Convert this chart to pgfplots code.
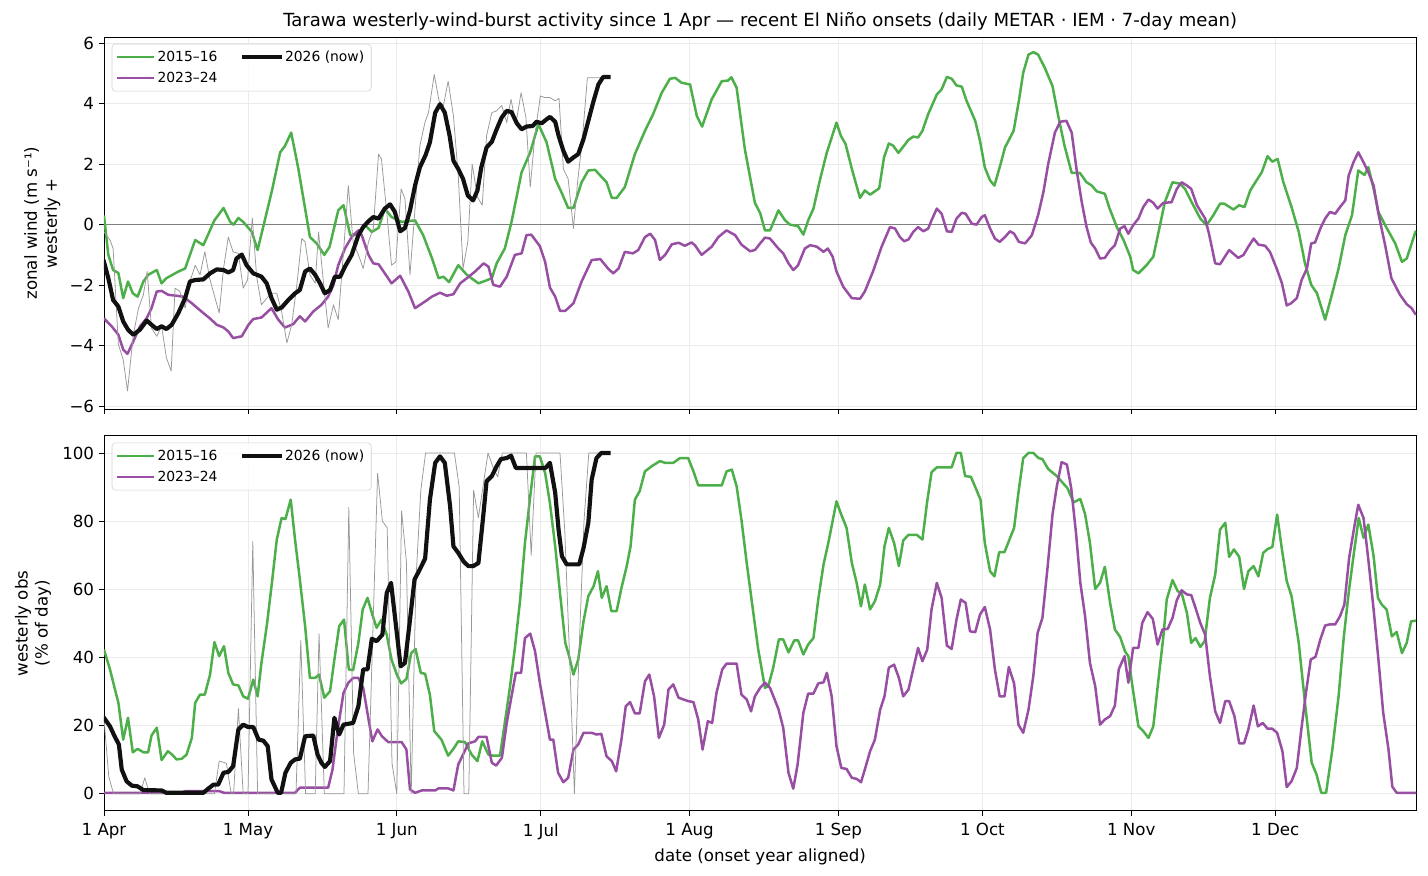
\documentclass[border=0pt]{standalone}
\usepackage{fontspec}
\setmainfont{DejaVu Sans}
\usepackage{pgfplots}
\pgfplotsset{compat=1.18}
\definecolor{cgreen}{HTML}{4DAF4A}
\definecolor{cpurple}{HTML}{984EA3}
\definecolor{cblack}{HTML}{111111}
\pgfplotsset{
  common/.style={
    width=944.9pt, scale only axis,
    xmin=0, xmax=273.4,
    xtick={0,30,61,91,122,153,183,214,244},
    tick align=outside, tick pos=left,
    major tick length=3.6pt,
    grid=major, grid style={black!8, line width=0.6pt},
    axis line style={line width=0.6pt},
    every tick/.style={black, line width=0.6pt},
    tick label style={font=\fontsize{12}{14}\selectfont},
    xticklabel style={yshift=-2pt},
    label style={font=\fontsize{12}{14.4}\selectfont},
    /pgf/number format/assume math mode=true,
    legend columns=2,
    legend cell align=left,
    legend image code/.code={\draw[#1] (0pt,0pt) -- (21.6pt,0pt); \path (0pt,0pt) -- (26pt,0pt);},
    legend style={at={(axis description cs:0.0059,0.982)}, anchor=north west,
      draw=black!18, rounded corners=2.5pt, fill=white, fill opacity=0.8,
      text opacity=1, draw opacity=1, font=\fontsize{10}{12}\selectfont,
      inner xsep=3pt, inner ysep=3pt, row sep=2pt,
      /tikz/every even column/.append style={column sep=15.6pt}},
  },
  gline/.style={cgreen, line width=1.8pt, line join=round},
  pline/.style={cpurple, line width=1.8pt, line join=round},
  kline/.style={cblack, line width=3pt, line join=round, line cap=rect},
  dline/.style={black!40, line width=0.55pt, line join=round},
}
\begin{document}
\begin{tikzpicture}
\path (-74.88pt,26.64pt) rectangle (953.3pt,-603.4pt);
\begin{axis}[common, name=top, at={(0,0)}, anchor=north west,
  height=268pt, ymin=-6.1, ymax=6.2,
  ytick={-6,-4,-2,0,2,4,6}, yticklabels={−6,−4,−2,0,2,4,6},
  xticklabels={},
  ylabel={zonal wind (m s⁻¹)\\westerly +},
  ylabel style={at={(axis description cs:-0.047,0.5)}, anchor=center, align=center},
  title={Tarawa westerly-wind-burst activity since 1 Apr — recent El Niño onsets (daily METAR · IEM · 7-day mean)},
  title style={font=\fontsize{13}{15}\selectfont, at={(axis description cs:0.5,1)}, anchor=south, yshift=-4.5pt},
]
\addlegendimage{gline}\addlegendentry{2015–16}
\addlegendimage{kline}\addlegendentry{2026 (now)}
\addlegendimage{pline}\addlegendentry{2023–24}
\addplot[black!50, line width=0.6pt, forget plot] coordinates {(-5,0) (280,0)};
% 2015-16
\addplot[gline, forget plot] coordinates {
(0,0.3) (0.9,-1.0) (1.9,-1.5) (3,-1.6) (4,-2.43) (5,-1.88) (6,-2.27) (7,-2.38) (8.2,-1.88) (9.2,-1.66) (11,-1.5) (12,-1.94) (13,-1.77) (15.5,-1.55) (16.9,-1.45) (19,-0.51) (20.7,-0.68) (23,0.14) (24.9,0.55) (26.3,0.09) (27,0) (28,0.22) (29,0.09) (30.8,-0.24) (32,-0.84) (33.5,0.14) (35,1.13) (36.7,2.39) (37.7,2.6) (39,3.04) (40.5,1.84) (42.9,-0.41) (44.3,-0.62) (45.9,-1.0) (47,-0.73) (48.8,0.47) (49.9,0.64) (51.3,-0.35) (53,-0.33) (54.4,-0.02) (55.8,-0.24) (57.2,-0.11) (58.5,0.53) (59.9,0.25) (62,0.09) (64.8,0.14) (66.5,-0.35) (68.3,-1.1) (69.7,-1.77) (70.7,-1.72) (71.9,-1.9) (73.8,-1.34) (75.6,-1.66) (78,-1.94) (79.4,-1.86) (80.8,-1.77) (81.8,-1.28) (83.5,-0.79) (84.9,0.09) (87,1.73) (88.8,2.39) (90.5,3.32) (92.2,2.72) (94,1.51) (95.3,1.07) (96.7,0.55) (97.8,0.55) (99.5,1.4) (100.9,1.79) (102.3,1.81) (103.7,1.57) (104.7,1.4) (105.8,0.88) (106.8,0.88) (108.5,1.24) (110.6,2.33) (112.7,3.1) (114.4,3.65) (116.2,4.36) (117.9,4.82) (119,4.85) (120.3,4.69) (122.1,4.63) (123.5,3.59) (124.6,3.24) (126.6,4.14) (128.7,4.74) (130,4.76) (130.7,4.87) (131.8,4.52) (133.5,2.5) (135.6,0.72) (136.7,0.38) (137.7,-0.19) (138.75,-0.19) (140.5,0.47) (141.9,0.14) (142.9,0) (144.6,-0.05) (145.7,-0.33) (146.7,0.14) (147.8,0.53) (149.2,1.51) (150.6,2.39) (151.6,2.88) (152.6,3.37) (153.5,2.94) (154.5,2.66) (155.8,1.84) (157.5,0.88) (158.5,1.13) (159.6,0.99) (161.5,1.2) (162.5,2.22) (163.5,2.68) (164.4,2.61) (165.5,2.37) (167.6,2.8) (168.6,2.91) (169.6,2.88) (170.5,3.1) (171.7,3.65) (173.5,4.3) (174.5,4.47) (175.6,4.88) (176.6,4.82) (177.6,4.6) (178.7,4.56) (179.7,4.09) (181.5,3.43) (182.5,2.77) (183.5,1.89) (184.6,1.46) (185.5,1.29) (186.7,1.95) (187.7,2.55) (189.5,3.1) (190.6,4.09) (191.5,5.02) (192.6,5.62) (193.6,5.7) (194.6,5.62) (196,5.18) (197.6,4.58) (198.8,3.59) (200.1,2.61) (201.6,1.71) (203.3,1.71) (204.7,1.4) (205.8,1.29) (206.8,1.1) (208.5,1.02) (209.5,0.53) (211,-0.08) (212.4,-0.51) (213.8,-1.06) (214.4,-1.5) (215.5,-1.61) (217.2,-1.34) (218.6,-1.06) (219.7,-0.24) (221,0.74) (222.6,1.4) (224.2,1.35) (225.2,1.18) (226.6,0.74) (228.4,0.2) (229.7,-0.02) (231.1,0.31) (232.5,0.69) (233.4,0.69) (235.3,0.5) (236.5,0.64) (237.6,0.58) (238.8,1.13) (240.1,1.46) (241.2,1.73) (242.4,2.26) (243.4,2.08) (244.5,2.17) (245.7,1.4) (247.4,0.58) (248.9,-0.24) (250.2,-1.28) (251.5,-1.99) (252.7,-2.27) (254.4,-3.14) (255.8,-2.32) (257.2,-1.45) (258.6,-0.35) (260,0.31) (261.3,1.79) (262.6,1.64) (263.4,1.9) (264.5,1.18) (265.5,0.42) (266.9,-0.02) (269,-0.62) (270.4,-1.23) (271.4,-1.12) (273.3,-0.2)
};
% 2023-24
\addplot[pline, forget plot] coordinates {
(0,-3.1) (1.6,-3.36) (3,-3.64) (4,-4.13) (4.9,-4.27) (6.1,-3.86) (7.5,-3.36) (8.9,-3.09) (9.9,-2.76) (11,-2.21) (12,-2.19) (13.4,-2.32) (15.1,-2.35) (16.5,-2.38) (18.3,-2.6) (20.3,-2.87) (22,-3.09) (23.5,-3.31) (24.9,-3.4) (25.9,-3.53) (26.9,-3.75) (28.7,-3.69) (30.1,-3.31) (31.1,-3.12) (32.8,-3.07) (34.9,-2.76) (36.3,-3.14) (37.7,-3.4) (39.4,-3.29) (40.8,-3.03) (41.9,-3.2) (43.6,-2.87) (45.3,-2.65) (46.7,-2.38) (47.8,-1.99) (48.8,-1.34) (50.2,-0.79) (51.6,-0.41) (53,-0.19) (53.7,-0.35) (55.1,-1.0) (56.1,-1.28) (57.2,-1.31) (58.5,-1.61) (59.9,-1.94) (61.7,-1.69) (63.4,-2.21) (64.8,-2.76) (66.9,-2.54) (68.3,-2.38) (70,-2.25) (71.4,-2.35) (72.8,-2.3) (74.2,-1.94) (75.6,-1.77) (77.3,-1.55) (79.1,-1.28) (80.1,-1.39) (81.1,-1.99) (82.5,-2.05) (83.9,-1.72) (85.6,-1.0) (87,-0.95) (88,-0.35) (89,-0.33) (90.8,-0.71) (91.9,-1.23) (92.9,-2.08) (94,-2.38) (95,-2.85) (96.1,-2.85) (97.8,-2.6) (99.5,-1.88) (101.6,-1.17) (103.4,-1.14) (105,-1.45) (106.1,-1.61) (107.2,-1.45) (108.5,-0.9) (110.2,-0.95) (111.3,-0.84) (112.7,-0.41) (113.8,-0.3) (114.8,-0.51) (115.8,-1.17) (116.9,-1.0) (118.3,-0.65) (119.7,-0.6) (121,-0.7) (122.4,-0.59) (123.1,-0.68) (124.5,-1.0) (126.6,-0.73) (128,-0.41) (129.7,-0.19) (131.5,-0.35) (132.8,-0.66) (134.6,-0.88) (135.6,-0.84) (136.7,-0.62) (137.7,-0.43) (138.75,-0.46) (140.5,-0.79) (141.5,-0.95) (142.6,-1.28) (143.6,-1.5) (144.6,-1.34) (146,-0.79) (147.1,-0.68) (148.5,-0.73) (149.9,-0.9) (150.8,-0.79) (151.8,-1.06) (152.6,-1.55) (154,-2.05) (155.8,-2.43) (157.5,-2.45) (158.5,-2.21) (160.2,-1.55) (162,-0.73) (163.75,-0.08) (164.8,-0.13) (165.8,-0.41) (166.7,-0.55) (167.6,-0.49) (168.6,-0.24) (169.6,-0.08) (170.7,-0.22) (171.7,-0.13) (172.4,0.14) (173.5,0.53) (174.5,0.36) (175.6,-0.22) (176.6,-0.24) (177.6,0.2) (178.7,0.39) (179.5,0.36) (180.8,0.03) (181.8,0) (182.85,0.25) (183.5,0.31) (184.6,-0.13) (185.6,-0.46) (186.6,-0.57) (187.7,-0.41) (188.75,-0.22) (189.6,-0.3) (190.6,-0.57) (191.9,-0.62) (193.3,-0.35) (194.6,0.31) (195.7,1.07) (196.7,2.0) (198.1,3.04) (199.2,3.4) (200.5,3.43) (201.6,3.04) (202.6,1.84) (203.7,0.74) (204.7,-0.08) (205.6,-0.6) (206.5,-0.79) (207.5,-1.12) (208.5,-1.1) (209.6,-0.84) (210.6,-0.68) (211.7,-0.13) (212.6,-0.05) (213.4,-0.3) (214.4,-0.02) (215.5,0.2) (216.5,0.58) (217.6,0.83) (218.6,0.72) (219.5,0.53) (220.7,0.72) (222.4,0.74) (223.5,1.18) (224.5,1.4) (225.6,1.29) (226.5,1.18) (227.7,0.64) (229.4,0.2) (230.2,-0.3) (231.5,-1.28) (232.5,-1.31) (234.4,-0.84) (236.3,-1.1) (237.4,-1.0) (238.4,-0.73) (239.5,-0.46) (240.5,-0.66) (241.9,-0.7) (242.9,-0.9) (244.3,-1.45) (245.4,-1.94) (246.4,-2.67) (247.3,-2.6) (248.5,-2.43) (249.5,-1.83) (250.6,-1.45) (251.5,-0.62) (252.3,-0.59) (253.4,-0.13) (254.4,0.2) (255.4,0.42) (256.5,0.36) (257.5,0.58) (258.6,0.8) (259.3,1.62) (260.3,2.06) (261.3,2.39) (262.4,2.06) (263.4,1.73) (264.5,1.29) (265.5,0.36) (266.9,-0.68) (268.2,-1.77) (270,-2.32) (271.4,-2.63) (272.4,-2.76) (273.3,-2.98)
};
% 2026 daily
\addplot[dline, forget plot] coordinates {
(0,-0.24) (1.25,-0.51) (1.9,-0.79) (3,-3.96) (4,-4.46) (4.9,-5.5) (6.1,-3.64) (7.2,-2.76) (8.2,-2.32) (9,-1.55) (9.9,-3.42) (11,-3.69) (12,-3.36) (13,-4.4) (14,-4.84) (14.8,-2.1) (15.8,-2.21) (16.9,-2.76) (17.9,-1.88) (19,-1.34) (20,-1.66) (21,-0.9) (22.1,-1.83) (24,-2.92) (24.9,-1.45) (25.9,-0.41) (26.9,-0.9) (28,-0.95) (29,-2.1) (29.9,-1.83) (30.9,0.22) (31.8,-1.72) (32.8,-2.65) (33.9,-2.43) (34.9,-2.27) (36,-2.27) (37,-2.87) (38.1,-3.91) (39.1,-3.31) (40.1,-2.1) (41.2,-0.46) (41.9,-0.57) (42.9,-1.66) (44,-1.94) (44.7,-0.24) (45.7,-1.88) (46.7,-3.42) (47.8,-2.65) (48.8,-3.14) (49.9,-0.9) (50.9,1.29) (51.9,-0.57) (53,-1.0) (54,-1.45) (55.1,-0.57) (56.1,-0.13) (57.2,2.33) (57.8,2.17) (58.9,0.42) (59.9,-1.34) (60.8,-1.23) (61.9,1.18) (62.7,0.85) (63.75,-1.66) (64.8,0.53) (65.8,2.6) (66.9,3.4) (67.6,3.7) (68.8,4.96) (69.8,4.09) (70.7,3.92) (71.7,4.74) (72.8,3.59) (73.8,1.62) (74.8,-1.45) (75.8,-0.57) (76.7,2.0) (77.8,0.91) (78.8,0.64) (79.7,2.94) (80.8,3.7) (81.8,3.76) (82.85,3.94) (83.9,3.37) (84.8,4.14) (85.8,3.32) (86.9,4.36) (87.9,3.54) (88.8,1.24) (89.8,2.99) (90.9,4.25) (91.9,4.2) (92.9,4.2) (94,4.09) (94.8,4.17) (95.7,1.84) (96.7,1.51) (97.8,-0.13) (98.7,1.46) (99.6,2.72) (100.7,4.85) (105.1,4.85)
};
% 2026 7-day
\addplot[kline, forget plot] coordinates {
(0,-1.23) (0.9,-1.77) (1.9,-2.49) (3,-2.71) (4,-3.2) (5,-3.47) (6.1,-3.64) (7.5,-3.47) (8.9,-3.17) (9.9,-3.31) (11,-3.45) (12,-3.36) (13,-3.45) (14.1,-3.31) (15.5,-2.92) (16.9,-2.43) (17.9,-1.88) (19,-1.83) (20.7,-1.81) (22.1,-1.61) (23.5,-1.48) (24.9,-1.5) (25.9,-1.58) (26.9,-1.5) (27.6,-1.12) (28.7,-0.99) (29.7,-1.34) (31.1,-1.61) (32.8,-1.72) (33.9,-1.94) (34.9,-2.43) (36,-2.81) (37,-2.74) (38.4,-2.49) (39.8,-2.27) (40.8,-2.16) (41.9,-1.55) (42.9,-1.45) (44,-1.66) (45,-1.94) (46,-2.27) (47.1,-2.16) (48.1,-1.72) (49.2,-1.72) (50.2,-1.39) (51.6,-1.0) (53,-0.35) (54,-0.08) (55.1,0.11) (56.1,0.25) (57.2,0.2) (58.5,0.53) (59.6,0.67) (60.6,0.42) (61.7,-0.22) (62.7,-0.11) (63.75,0.47) (64.8,1.29) (65.8,1.89) (67,2.3) (67.9,2.72) (69,3.7) (70,3.98) (71,3.7) (72,2.94) (72.8,2.11) (73.8,1.84) (74.8,1.51) (75.8,0.96) (76.9,0.8) (77.8,1.13) (78.6,1.89) (79.7,2.55) (80.8,2.74) (81.8,3.15) (82.85,3.54) (83.9,3.76) (84.9,3.72) (86,3.35) (87,3.15) (88,3.24) (89.3,3.26) (90.1,3.4) (91.2,3.35) (92.2,3.48) (92.9,3.56) (94,3.4) (94.7,2.94) (95.7,2.44) (96.7,2.08) (97.8,2.22) (98.8,2.33) (99.9,2.83) (100.9,3.43) (102,4.09) (103,4.63) (104,4.88) (105.1,4.88)
};
\end{axis}
\begin{axis}[common, name=bot, at={(0,-287.2pt)}, anchor=north west,
  height=270pt, ymin=-5, ymax=105,
  ytick={0,20,40,60,80,100}, yticklabels={0,20,40,60,80,100},
  xticklabels={1 Apr,1 May,1 Jun,1 Jul,1 Aug,1 Sep,1 Oct,1 Nov,1 Dec},
  xlabel={date (onset year aligned)},
  ylabel={westerly obs\\(\% of day)},
  ylabel style={at={(axis description cs:-0.054,0.5)}, anchor=center, align=center},
]
\addlegendimage{gline}\addlegendentry{2015–16}
\addlegendimage{kline}\addlegendentry{2026 (now)}
\addlegendimage{pline}\addlegendentry{2023–24}
\addplot[gline, forget plot] coordinates {
(0,42.3) (1.25,36.5) (2.2,31.1) (3,26.7) (4,15.9) (5,22.3) (6,12.2) (7,13.2) (8.2,12.2) (9.2,12.2) (9.9,17.1) (11,19.4) (12,9.9) (13.3,12.5) (14.2,11.5) (15.1,10.1) (16.2,10.3) (17.2,11.5) (18.3,16.4) (19,26.7) (20,29.1) (21,29.1) (22.1,35) (23,44.5) (24,40.4) (25,43.3) (25.9,35.5) (26.9,32.1) (28,31.8) (29,28.6) (30,27.9) (31.1,33.5) (32,28.6) (32.8,38.4) (33.9,49.2) (34.9,60.9) (36,74.6) (37,80.9) (37.8,80.6) (38.9,86.3) (39.8,74.6) (40.8,62.9) (41.9,49.2) (42.9,34) (44,34) (44.8,35) (45.9,28.2) (47.1,30.1) (48,39.4) (49,49.2) (50,51.1) (51,36.5) (51.9,36.3) (53,44.3) (53.9,54.1) (54.9,57.5) (55.9,52.6) (56.8,48.7) (57.8,51.1) (58.9,46.7) (59.9,39.4) (61,35) (61.9,32.4) (63,33.7) (64,41.3) (64.9,42.5) (66,35.5) (66.9,35.2) (67.9,29) (68.8,18.4) (70.3,15.9) (71.7,11.2) (72.8,13.2) (73.8,15.4) (75.2,15.2) (76.6,11.5) (77.8,9.6) (78.8,15.4) (80.1,11.5) (81.1,11.2) (82.5,11.2) (83.5,20.8) (84.6,31.6) (85.6,42.8) (86.7,57) (87.7,73.6) (88.8,87.3) (89.8,99) (90.8,99) (91.9,94.1) (92.9,85.3) (94,72.6) (95,58.9) (96.1,44.3) (96.9,40.4) (97.8,35) (98.8,39.4) (99.9,50.6) (100.9,58) (102,60.9) (102.9,65.3) (103.7,57.5) (104.7,60.9) (105.7,53.6) (106.8,53.6) (107.8,60.4) (108.9,66.8) (109.7,72.6) (110.6,86.3) (111.6,88.8) (112.7,94.6) (114.1,96.1) (115.8,97.6) (116.9,97.1) (118.6,97.1) (120,98.5) (121.7,98.5) (122.8,94.6) (123.8,90.5) (125.6,90.5) (127.4,90.5) (128.7,90.5) (129.7,94.6) (130.8,95.1) (131.8,90.2) (132.8,80.4) (133.9,67.7) (135,56) (136.3,42.3) (137.7,31.1) (138.4,31.6) (139.4,36.9) (140.6,45.3) (141.5,45.3) (142.6,41.5) (143.8,45) (144.6,45) (145.7,40.9) (146.7,43.8) (147.8,45.7) (148.8,57) (149.9,67.3) (150.9,73.6) (152.6,85.8) (153.6,81.9) (154.7,78) (155.8,67.7) (156.8,61.9) (157.7,55) (158.5,61.4) (159.6,54.1) (160.6,56.5) (161.7,61.4) (162.6,72.6) (163.5,78) (164.6,73.6) (165.6,66.8) (166.5,74.3) (167.6,76) (169.3,76) (170.5,74.6) (171.5,85.8) (172.4,94.3) (173.5,95.8) (174.9,95.8) (176.6,95.8) (177.6,100) (178.5,100) (179.4,93.2) (180.6,93) (181.6,89.7) (182.6,86.3) (183.5,73.6) (184.6,65.3) (185.5,63.8) (186.5,70.9) (187.6,70.9) (188.5,74.1) (189.6,78) (190.5,88.3) (191.5,98.5) (192.6,100) (193.6,100) (194.7,98.5) (195.5,98.2) (196.7,95.3) (198.5,93.2) (200.7,89.7) (202,85.5) (203.4,86.5) (204.4,82) (205.4,73.6) (206.5,60.1) (207.5,61.9) (208.5,66.6) (209.6,56) (210.6,48.2) (211.7,46) (212.7,41.8) (213.4,40.4) (214.2,32.1) (215.5,19.8) (216.5,18.4) (217.6,16.4) (218.6,19.8) (219.6,32.6) (220.7,46.2) (221.4,57) (222.6,62.7) (223.7,59.4) (224.5,58.9) (225.6,53.1) (226.5,44.3) (227.4,45.7) (228.4,43.1) (229.3,44.8) (230.4,57.5) (231.5,64.3) (232.5,77.5) (233.6,79.5) (234.4,69.5) (235.4,71.7) (236.5,69.5) (237.5,60.1) (238.4,65.3) (239.5,66.8) (240.5,63.8) (241.5,70.7) (242.4,71.8) (243.4,72.4) (244.4,81.9) (245.4,71.7) (246.4,62.4) (247.4,58) (248.9,44.3) (250.2,26.7) (251.6,9.1) (252.6,5.7) (253.6,0.3) (254.6,0.3) (255.9,13) (257.2,28.6) (258.3,46.2) (259.3,58.9) (260.3,69.7) (261.4,80.9) (262.4,75.1) (263.4,79) (264.5,69.7) (265.4,57.5) (266.2,55.5) (267.2,54.1) (268.3,46.2) (269.3,47.5) (270.4,41.3) (271.4,44.3) (272.3,50.6) (273.3,50.8)
};
\addplot[pline, forget plot] coordinates {
(0,0.3) (16,0.3) (17,0.8) (24,0.8) (25,0.3) (39.8,0.3) (40.8,1.8) (46.7,1.8) (47.6,7.1) (48.7,18.9) (49.9,29.6) (50.9,32.6) (51.9,34) (53,34) (54,31.1) (55,22.8) (55.9,15.4) (57,18.9) (57.9,16.9) (59.2,15.2) (62,15.2) (63,13) (63.75,1.3) (64.8,0.3) (66.2,1) (69,1) (69.7,1.6) (71.7,1.6) (72.8,1) (73.8,8.6) (74.8,11.5) (75.9,14.8) (77.3,15.4) (78,16.7) (79.7,16.7) (80.8,9.1) (81.7,8.3) (82.9,10.6) (83.9,20.8) (84.9,28.6) (85.8,35.5) (86.9,35.5) (87.7,45.7) (88.8,47) (89.8,41.8) (90.8,32.6) (91.9,23.8) (92.9,15.9) (93.6,15.9) (94.6,6.2) (95.7,3.4) (96.7,4.7) (97.8,13) (98.8,14.5) (99.9,17.9) (101.6,17.9) (102.6,17.4) (103.6,17.6) (104.7,11) (105.8,9.6) (106.7,6.6) (107.8,15.9) (108.7,25.7) (109.6,26.9) (110.6,23.6) (111.6,23.6) (112.7,33) (113.6,35) (114.6,28.6) (115.6,16.4) (116.7,20.3) (117.6,30.6) (118.6,32.1) (119.7,28.2) (120.7,27.7) (121.7,27.2) (122.8,26.9) (123.8,21.8) (124.7,13) (125.8,21.3) (126.7,20.8) (127.6,29.6) (128.8,36.5) (129.7,38.2) (131.8,38.2) (132.8,29.1) (133.9,27.7) (134.8,24.2) (135.6,28.6) (136.7,31.1) (137.7,32.6) (138.75,31.1) (140.5,24.9) (141.5,19.4) (142.6,6.2) (143.6,1.5) (144.5,8.6) (145.7,23.8) (146.7,29.4) (147.8,29.4) (148.8,32.4) (149.9,32.7) (150.6,35.5) (151.6,28.6) (152.6,14) (153.6,7.6) (154.7,7.3) (155.8,4.7) (156.8,4.4) (157.7,3.4) (158.5,7.1) (159.6,12.5) (160.6,15.9) (161.7,24.7) (162.6,28.6) (163.5,37) (164.6,37.9) (165.6,34) (166.5,28.6) (167.6,30.6) (168.6,36.7) (169.6,42.8) (170.5,38.9) (171.5,42.3) (172.4,54.1) (173.5,61.9) (174.5,57.5) (175.6,43.5) (176.6,42.5) (177.6,51.1) (178.5,57) (179.5,56) (180.4,47.7) (181.5,47.4) (182.5,52.6) (183.5,54.8) (184.6,48.2) (185.6,36.5) (186.6,28.6) (187.6,28.6) (188.5,37.2) (189.6,32.4) (190.5,20.3) (191.5,17.9) (192.6,24.7) (193.6,34.5) (194.5,47.2) (195.5,51.6) (196.6,66.8) (197.6,81.9) (198.5,90.2) (199.5,97.3) (200.6,96.6) (201.5,89.7) (202.5,76.5) (203.4,61.9) (204.4,52) (205.4,38.4) (206.5,31.6) (207.5,20.3) (208.5,21.8) (209.6,22.8) (210.6,25.9) (211.4,36.5) (212.6,40.4) (213.4,32.6) (214.4,42.8) (215.5,42.8) (216.3,50.1) (217.4,53.3) (218.5,51.3) (219.5,43.8) (220.5,48.2) (221.6,48.4) (222.6,51.6) (223.5,56.8) (224.5,59.7) (225.6,58.5) (226.5,58.3) (227.4,54.5) (228.4,50.1) (229.4,46.7) (230.4,34.5) (231.5,24.2) (232.5,20.8) (233.6,27.2) (234.4,27.2) (235.5,22.8) (236.5,14.8) (237.5,14.8) (238.4,18.9) (239.5,25.9) (240.4,19.8) (241.4,20.8) (242.4,19.1) (243.4,19.1) (244.4,17.9) (245.5,12.5) (246.4,2) (247.4,3.7) (248.5,7.6) (249.4,18.4) (250.4,29.6) (251.4,39.4) (252.4,40.2) (253.4,45.3) (254.4,49.4) (255.4,49.7) (256.5,49.7) (257.5,52.1) (258.4,55.5) (259.4,69.2) (260.5,78.5) (261.3,84.8) (262.4,80.9) (263.4,68.7) (264.5,54.1) (265.5,39.4) (266.5,23.8) (267.6,13) (268.4,2.1) (269.3,0.3) (273.4,0.3)
};
\addplot[dline, forget plot] coordinates {
(0,22) (1,5) (2,0) (7.5,0) (8.5,4.7) (9.5,0) (23,0) (24,9.6) (25.5,9) (26.5,0) (27,0) (28,25) (29,0) (30,0) (31,74) (32,0) (40,0) (41,45) (42,0) (44,0) (44.8,47) (45.9,0) (50,0) (51,84) (52,12) (53,0) (55,0) (57,94) (58,80) (59,78) (60,9) (61,0) (62,83) (63,68) (64,0) (65,63) (66,89) (67,100) (73,100) (74,90) (75,0) (76,0) (77,89) (78,81) (80,100) (81,96) (82,93) (83,100) (88,100) (89,70) (90,100) (95,100) (96,77) (97,40) (98,0) (99,43) (100,80) (101,100) (105.1,100)
};
\addplot[kline, forget plot] coordinates {
(0,22.3) (1.25,19.8) (2.2,16.9) (3.1,14.5) (3.7,7.1) (4.7,3.7) (5.8,2.4) (7,2.2) (8.2,1.1) (12,1) (13,0.3) (20.7,0.3) (21.7,1.5) (22.8,2.7) (23.8,2.7) (24.9,6.2) (25.9,6.4) (26.9,8.1) (28,18.9) (29,20.3) (30,19.6) (31.1,19.6) (32.2,15.9) (33.2,15.6) (34.1,14) (34.9,4.2) (36.2,0.3) (36.9,0.3) (37.8,6.2) (38.9,9.1) (39.8,10.1) (40.8,10.3) (41.9,16.9) (43.6,17.1) (44.5,11.5) (45.3,9.1) (46,7.9) (47.1,9.6) (48,22.3) (49,17.4) (49.9,20.3) (51.9,20.8) (53,25.7) (54,36.5) (54.9,36.5) (55.8,45.5) (56.8,44.8) (58,46.7) (58.9,58.9) (59.8,61.9) (60.6,52.1) (61.8,37.4) (62.7,38.4) (63.75,51.1) (64.7,62.9) (65.6,65.3) (66.9,69) (67.9,86.3) (69,97.1) (70,99) (71,97.1) (72.1,84.4) (72.8,72.6) (73.8,70.7) (74.9,68.2) (75.9,66.8) (76.9,66.8) (78,67.7) (79,81.4) (79.7,91.7) (80.8,93.2) (81.8,96.1) (82.7,98.2) (83.9,98.5) (84.8,99.2) (85.8,95.6) (92,95.6) (92.9,97.1) (94,88.3) (94.7,77.5) (95.4,69.7) (96.4,67.3) (99,67.3) (99.9,72.1) (100.9,79.5) (101.6,92.2) (102.6,98.5) (103.6,100) (105.1,100)
};
\end{axis}
\end{tikzpicture}
\end{document}
